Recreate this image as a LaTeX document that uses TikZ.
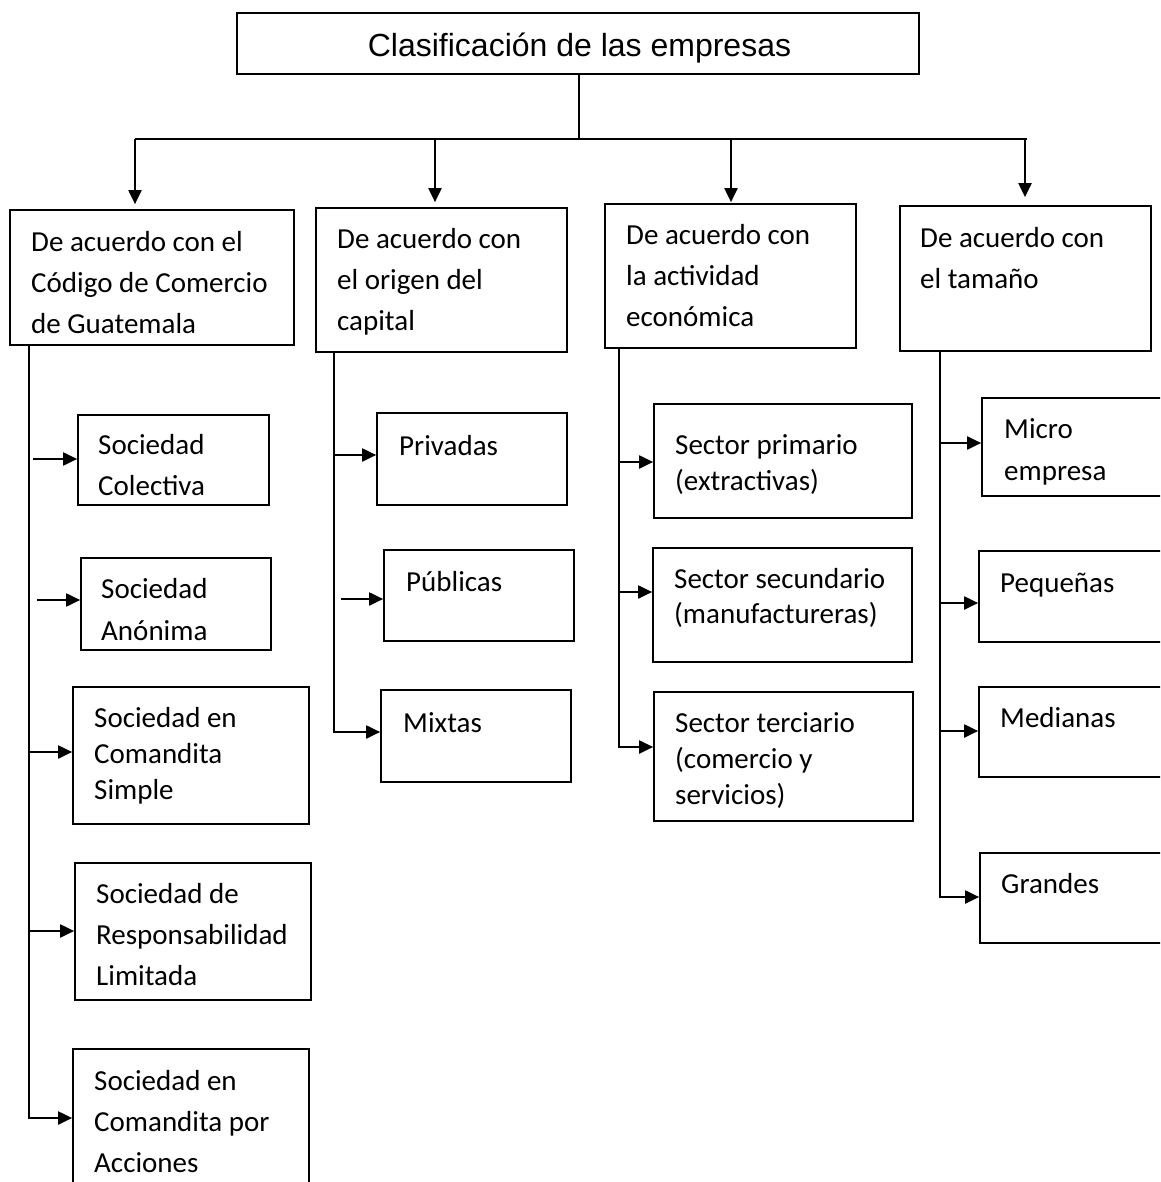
\documentclass[tikz,border=0pt]{standalone}
\usepackage{fontspec}
\setmainfont{Carlito}
\newfontfamily\titlefont{Liberation Sans}
\usetikzlibrary{arrows.meta,fit}

% box from its two corners
\newcommand\bx[5]{\node[box, fit={(#2,#3) (#4,#5)}] (#1) {};}
% text block: name, left x, first baseline, line spacing, lines
\newcommand\boxtext[5]{\node[lbl=#4] (#1) at (#2,{#3+3-0.7*#4}) {\strut #5};}

\begin{document}
\begin{tikzpicture}[x=1pt,y=-1pt,
  box/.style={draw, line width=1.7pt, inner sep=0pt, rectangle},
  lbl/.style={inner sep=0pt, anchor=north west, align=left,
              font=\fontsize{29}{#1}\selectfont},
  lbl/.default=41,
  ln/.style={line width=2pt},
  arr/.style={line width=2pt, -{Triangle[length=14pt,width=13pt]}},
]
\fill[white] (0,0) rectangle (1160,1182);
\useasboundingbox (0,0) rectangle (1160,1182);
\clip (0,0) rectangle (1160,1182);

% title
\bx{T}{237}{13}{919}{74}
\node[anchor=base, inner sep=0pt, font=\titlefont\fontsize{32}{38}\selectfont]
  (tT) at (579.5,57) {Clasificación de las empresas};

% first level
\bx{A}{10}{210}{294}{345}
\bx{B}{316}{208}{567}{352}
\bx{C}{605}{204}{856}{348}
\bx{D}{900}{206}{1151}{351}
\boxtext{tA}{31}{248}{41}{De acuerdo con el\\Código de Comercio\\de Guatemala}
\boxtext{tB}{337}{245}{41}{De acuerdo con\\el origen del\\capital}
\boxtext{tC}{626}{241}{41}{De acuerdo con\\la actividad\\económica}
\boxtext{tD}{920}{244}{41}{De acuerdo con\\el tamaño}

% second level
\bx{sc}{78}{415}{269}{505}
\bx{sa}{81}{558}{271}{650}
\bx{scs}{73}{687}{309}{824}
\bx{srl}{75}{863}{311}{1000}
\bx{sca}{73}{1049}{309}{1200}
\bx{priv}{377}{413}{567}{505}
\bx{pub}{384}{550}{574}{641}
\bx{mix}{381}{690}{571}{782}
\bx{sa1}{654}{404}{912}{518}
\bx{sa2}{653}{548}{912}{662}
\bx{sa3}{654}{692}{913}{821}
\bx{mic}{982}{398}{1180}{496}
\bx{peq}{979}{551}{1180}{642}
\bx{med}{979}{687}{1180}{777}
\bx{gra}{980}{853}{1180}{943}

\boxtext{tsc}{98}{451}{41}{Sociedad\\Colectiva}
\boxtext{tsa}{101}{595}{42}{Sociedad\\Anónima}
\boxtext{tscs}{94}{724}{36}{Sociedad en\\Comandita\\Simple}
\boxtext{tsrl}{96}{900}{41}{Sociedad de\\Responsabilidad\\Limitada}
\boxtext{tsca}{94}{1087}{41}{Sociedad en\\Comandita por\\Acciones}
\boxtext{tpriv}{399}{452}{41}{Privadas}
\boxtext{tpub}{406}{588}{41}{Públicas}
\boxtext{tmix}{403}{729}{41}{Mixtas}
\boxtext{tsa1}{675}{451}{36}{Sector primario\\(extractivas)}
\boxtext{tsa2}{674}{585}{35}{Sector secundario\\(manufactureras)}
\boxtext{tsa3}{675}{729}{36}{Sector terciario\\(comercio y\\servicios)}
\boxtext{tmic}{1004}{435}{42}{Micro\\empresa}
\boxtext{tpeq}{1000}{589}{41}{Pequeñas}
\boxtext{tmed}{1000}{724}{41}{Medianas}
\boxtext{tgra}{1001}{890}{41}{Grandes}

% title to the four groups
\coordinate (hub) at (579,139);
\coordinate (barL) at (135,139);
\coordinate (barR) at (1027,139);
\draw[ln] (T.south -| hub) -- (hub);
\draw[line width=2.8pt] (barL) -- (barR);
\coordinate (dA) at (135,139);
\coordinate (dB) at (435,139);
\coordinate (dC) at (731,139);
\coordinate (dD) at (1025,139);
\draw[arr, shorten >=5pt] (dA) -- (dA |- A.north);
\draw[arr, shorten >=5pt] (dB) -- (dB |- B.north);
\draw[arr, shorten >=1pt] (dC) -- (dC |- C.north);
\draw[arr, shorten >=8pt] (dD) -- (dD |- D.north);

% group A
\coordinate (ta) at (29,1118);
\draw[arr] (A.south -| ta) |- (sca.west |- ta);
\coordinate (a1) at (33,459);
\coordinate (a2) at (37,600);
\coordinate (a3) at (29,752);
\coordinate (a4) at (29,931);
\draw[arr] (a1) -- (a1 -| sc.west);
\draw[arr] (a2) -- (a2 -| sa.west);
\draw[arr] (a3) -- (a3 -| scs.west);
\draw[arr] (a4) -- (a4 -| srl.west);

% group B
\coordinate (tb) at (334,732);
\draw[arr] (B.south -| tb) |- (mix.west |- tb);
\coordinate (b1) at (334,455);
\coordinate (b2) at (341,599);
\draw[arr] (b1) -- (b1 -| priv.west);
\draw[arr] (b2) -- (b2 -| pub.west);

% group C
\coordinate (tc) at (619,747);
\draw[arr] (C.south -| tc) |- (sa3.west |- tc);
\coordinate (c1) at (619,462);
\coordinate (c2) at (619,592);
\draw[arr] (c1) -- (c1 -| sa1.west);
\draw[arr] (c2) -- (c2 -| sa2.west);

% group D
\coordinate (td) at (940,897);
\draw[arr] (D.south -| td) |- (gra.west |- td);
\coordinate (e1) at (940,443);
\coordinate (e2) at (940,603);
\coordinate (e3) at (940,731);
\draw[arr] (e1) -- (e1 -| mic.west);
\draw[arr] (e2) -- (e2 -| peq.west);
\draw[arr] (e3) -- (e3 -| med.west);
\end{tikzpicture}
\end{document}
